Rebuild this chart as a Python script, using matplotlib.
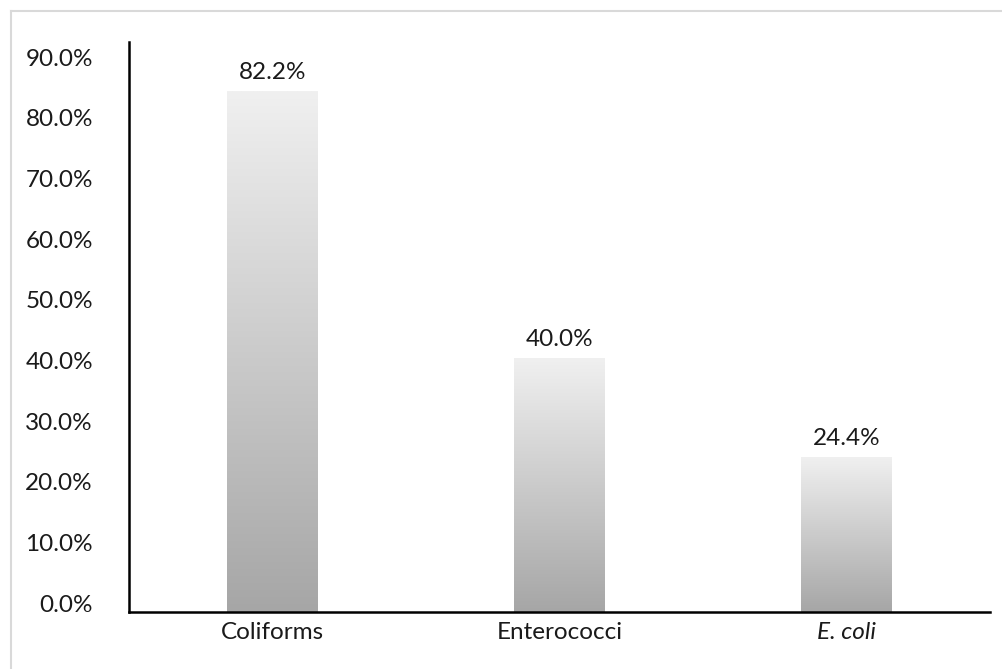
import numpy as np
import matplotlib
matplotlib.use("Agg")
import matplotlib.pyplot as plt
from matplotlib.transforms import ScaledTranslation

plt.rcParams['font.family'] = ['Lato', 'DejaVu Sans']

categories = ['Coliforms', 'Enterococci', 'E. coli']
values = [0.822, 0.400, 0.244]
value_labels = ['82.2%', '40.0%', '24.4%']
yticks = [0.0, 0.1, 0.2, 0.3, 0.4, 0.5, 0.6, 0.7, 0.8, 0.9]

fig = plt.figure(figsize=(10.03, 6.69), dpi=100)
ax = fig.add_axes([129 / 1003, 1 - 612 / 669, 861 / 1003, 570 / 669])

# light grey frame (only top and left visible in the original crop)
fig.add_artist(plt.Line2D([11 / 1003, 1], [1 - 10.5 / 669] * 2, color='#d9d9d9', lw=1.5,
                          transform=fig.transFigure))
fig.add_artist(plt.Line2D([11 / 1003] * 2, [0, 1 - 10.5 / 669], color='#d9d9d9', lw=1.5,
                          transform=fig.transFigure))

x = np.arange(len(categories))
bars = ax.bar(x, values, width=0.314, color='none', edgecolor='none', zorder=2)

# vertical gradient: light on top, darker at bottom
grad = np.linspace(0, 1, 256).reshape(-1, 1)
cmap = matplotlib.colors.LinearSegmentedColormap.from_list('g', ['#a6a6a6', '#f0f0f0'])
for b in bars:
    x0, y0, w, h = b.get_x(), b.get_y(), b.get_width(), b.get_height()
    ax.imshow(grad, cmap=cmap, aspect='auto', origin='lower',
              extent=[x0, x0 + w, y0, y0 + h], zorder=2)

for b, lab in zip(bars, value_labels):
    ax.annotate(lab, (b.get_x() + b.get_width() / 2, b.get_height()),
                xytext=(0, 6), textcoords='offset points', ha='center', va='bottom',
                fontsize=17.5, color='#1a1a1a')

ax.set_xlim(-0.5, len(categories) - 0.5)
ax.set_ylim(0, 0.9)
ax.set_yticks(yticks)
ax.set_yticklabels([f'{t * 100:.1f}%' for t in yticks])
ax.set_xticks(x)
ax.set_xticklabels(categories)
ax.get_xticklabels()[2].set_style('italic')

ax.tick_params(axis='y', length=0, pad=26, labelsize=17.5, labelcolor='#1a1a1a')
ax.tick_params(axis='x', length=0, pad=7, labelsize=17.5, labelcolor='#1a1a1a')

# in the original the y labels sit a bit tighter than the gridlines
for t, v in zip(ax.yaxis.get_major_ticks(), yticks):
    dy = (9 - 24 * v / 0.9) / 100
    t.label1.set_transform(t.label1.get_transform() + ScaledTranslation(0, dy, fig.dpi_scale_trans))

for s in ['top', 'right']:
    ax.spines[s].set_visible(False)
for s in ['left', 'bottom']:
    ax.spines[s].set_linewidth(1.8)
    ax.spines[s].set_color('black')

plt.savefig('out.png', dpi=100)
